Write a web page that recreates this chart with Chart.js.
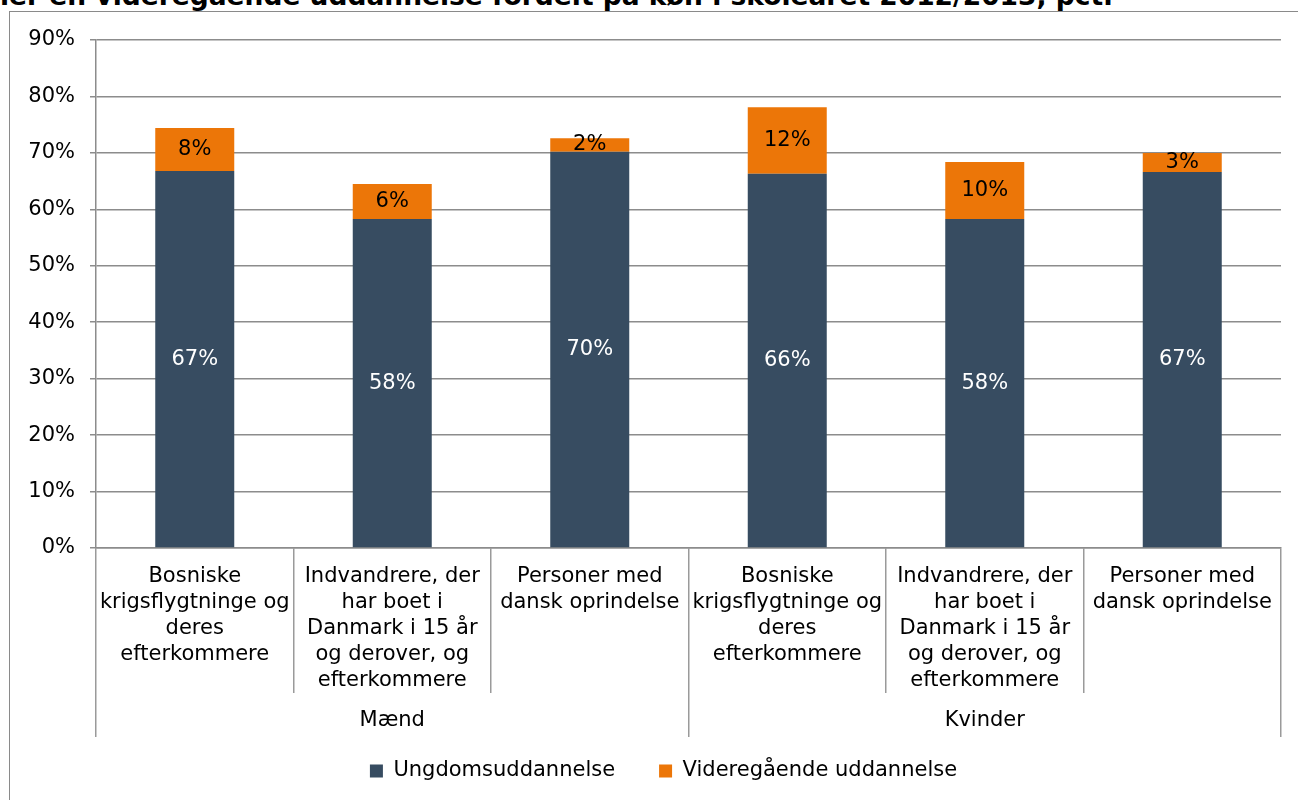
<!DOCTYPE html>
<html>
<head>
<meta charset="utf-8">
<script src="https://cdn.jsdelivr.net/npm/chart.js@4"></script>
<style>
  body { margin: 0; overflow: hidden; background: #fff; width: 1298px; height: 800px; position: relative; }
  .title { position: absolute; left: 0; top: -17px; font: bold 26.5px/26px "DejaVu Sans"; white-space: nowrap; color: #000; }
  .box { position: absolute; left: 9px; top: 11px; width: 1400px; height: 900px; border: 1px solid #8a8a8a; background: #fff; }
  canvas { position: absolute; left: 0; top: 0; }
</style>
</head>
<body>
<div class="title">ler en videregående uddannelse fordelt på køn i skoleåret 2012/2013, pct.</div>
<div class="box"><canvas id="myChart" width="1307" height="790"></canvas></div>
<script>
// categories (x axis, two levels)
const categories = [
    ['Bosniske', 'krigsflygtninge og', 'deres', 'efterkommere'],
    ['Indvandrere, der', 'har boet i', 'Danmark i 15 år', 'og derover, og', 'efterkommere'],
    ['Personer med', 'dansk oprindelse'],
    ['Bosniske', 'krigsflygtninge og', 'deres', 'efterkommere'],
    ['Indvandrere, der', 'har boet i', 'Danmark i 15 år', 'og derover, og', 'efterkommere'],
    ['Personer med', 'dansk oprindelse']
];
const groups = ['Mænd', 'Kvinder'];

// series values, pct.
const ungdom = [66.8, 58.3, 70.2, 66.3, 58.3, 66.6];
const videre = [7.6, 6.2, 2.4, 11.8, 10.1, 3.4];

// y axis
const yMax = 90;
const yStep = 10;

const gridGrey = '#8c8c8c';

Chart.defaults.font.family = 'DejaVu Sans';
Chart.defaults.font.size = 21;
Chart.defaults.color = '#000';

// draws the value inside every bar segment
const barLabels = {
    id: 'barLabels',
    afterDatasetsDraw(chart) {
        const ctx = chart.ctx;
        ctx.save();
        ctx.font = '21px "DejaVu Sans"';
        ctx.textAlign = 'center';
        ctx.textBaseline = 'middle';
        chart.data.datasets.forEach((ds, i) => {
            const meta = chart.getDatasetMeta(i);
            ctx.fillStyle = i === 0 ? '#ffffff' : '#000000';
            meta.data.forEach((bar, j) => {
                const v = ds.data[j];
                ctx.fillText(Math.round(v) + '%', bar.x, (bar.y + bar.base) / 2);
            });
        });
        ctx.restore();
    }
};

// scale labels are drawn outside the (squeezed) scale box, so no clipping
function noLabelClip(scale) {
    scale._computeLabelArea = function () { return undefined; };
}

document.addEventListener('DOMContentLoaded', function () {
    const ctx = document.getElementById('myChart').getContext('2d');
    const myChart = new Chart(ctx, {
        type: 'bar',
        data: {
            labels: categories,
            datasets: [{
                label: 'Ungdomsuddannelse',
                data: ungdom,
                backgroundColor: '#374c61',
                barPercentage: 0.4,
                categoryPercentage: 1
            }, {
                label: 'Videregående uddannelse',
                data: videre,
                backgroundColor: '#ec7608',
                barPercentage: 0.4,
                categoryPercentage: 1
            }]
        },
        options: {
            responsive: false,
            animation: false,
            devicePixelRatio: 1,
            layout: {
                padding: { left: 36, right: 36, top: 28, bottom: 10.5 }
            },
            plugins: {
                tooltip: { enabled: false },
                legend: {
                    position: 'bottom',
                    labels: {
                        boxWidth: 13,
                        boxHeight: 13,
                        padding: 44,
                        font: { size: 21 }
                    }
                }
            },
            scales: {
                x: {
                    stacked: true,
                    offset: true,
                    grid: {
                        offset: true,
                        drawOnChartArea: false,
                        drawTicks: true,
                        tickLength: 145,
                        color: '#9a9a9a',
                        lineWidth: 1.5
                    },
                    border: { display: true, color: gridGrey, width: 1.5 },
                    ticks: {
                        autoSkip: false,
                        maxRotation: 0,
                        minRotation: 0,
                        padding: -129,
                        font: { size: 21, lineHeight: '26px' }
                    },
                    afterFit(scale) { scale.height = 145; noLabelClip(scale); }
                },
                x2: {
                    type: 'category',
                    position: 'bottom',
                    labels: groups,
                    offset: true,
                    grid: {
                        offset: true,
                        drawOnChartArea: false,
                        drawTicks: true,
                        tickLength: 44,
                        color: '#9a9a9a',
                        lineWidth: 1.5
                    },
                    border: { display: false },
                    ticks: {
                        autoSkip: false,
                        maxRotation: 0,
                        padding: -29,
                        font: { size: 21, lineHeight: '26px' }
                    },
                    afterFit(scale) { scale.height = 23.5; noLabelClip(scale); }
                },
                y: {
                    stacked: true,
                    min: 0,
                    max: yMax,
                    grid: {
                        color: gridGrey,
                        lineWidth: 1.5,
                        drawTicks: true,
                        tickLength: 6
                    },
                    border: { display: true, color: gridGrey, width: 1.5 },
                    ticks: {
                        stepSize: yStep,
                        padding: 15,
                        font: { size: 21 },
                        callback: function (v) { return v + '%'; }
                    },
                    afterFit(scale) { scale.width = 50; noLabelClip(scale); }
                }
            }
        },
        plugins: [barLabels]
    });
});
</script>
</body>
</html>
